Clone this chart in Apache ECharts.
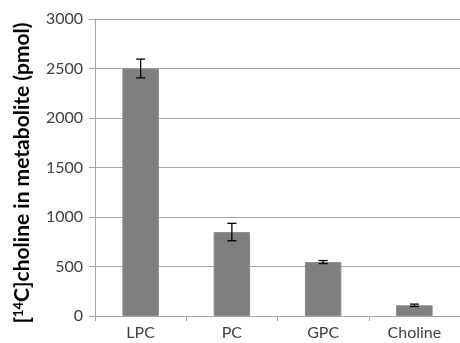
<!DOCTYPE html>
<html><head><meta charset="utf-8">
<script src="https://cdn.jsdelivr.net/npm/echarts@6/dist/echarts.min.js"></script>
<style>html,body{margin:0;padding:0;background:#fff}#c{width:460px;height:343px}</style>
</head><body><div id="c"></div>
<script>
const categories = ['LPC', 'PC', 'GPC', 'Choline'];
const values = [2500, 848, 545, 108];
const errors = [95, 88, 15, 12];
const yTicks = [0, 500, 1000, 1500, 2000, 2500, 3000];

const chart = echarts.init(document.getElementById('c'));
const font = 'Lato';
chart.setOption({
  animation: false,
  grid: { left: 95, right: -2, top: 19, bottom: 27 },
  xAxis: {
    type: 'category', data: categories,
    axisLine: { lineStyle: { color: '#a6a6a6', width: 1 } },
    axisTick: { show: true, length: 5, lineStyle: { color: '#a6a6a6' } },
    axisLabel: { color: '#404040', fontFamily: font, fontSize: 16, margin: 9 }
  },
  yAxis: {
    type: 'value', min: yTicks[0], max: yTicks[yTicks.length - 1], interval: yTicks[1] - yTicks[0],
    name: '{b|[}{s|14}{b|C]choline in metabolite (pmol)}',
    nameLocation: 'middle', nameGap: 62,
    nameTextStyle: {
      padding: [0, 11, 0, 0],
      rich: {
        b: { fontFamily: font, fontWeight: 'bold', fontSize: 21, color: '#000' },
        s: { fontFamily: font, fontWeight: 'bold', fontSize: 13, color: '#000', verticalAlign: 'top', padding: [0,0,8,0] }
      }
    },
    axisLine: { show: true, lineStyle: { color: '#a6a6a6' } },
    axisTick: { show: true, length: 6, lineStyle: { color: '#a6a6a6' } },
    splitLine: { lineStyle: { color: '#a6a6a6', width: 1 } },
    axisLabel: { color: '#404040', fontFamily: font, fontSize: 16, margin: 12, formatter: v => String(v) }
  },
  series: [
    {
      type: 'bar', data: values, barWidth: '40%',
      itemStyle: { color: '#7f7f7f', borderColor: '#8c8c8c', borderWidth: 1 }
    },
    {
      type: 'custom', z: 5,
      data: values.map((v, i) => [i, v - errors[i], v + errors[i]]),
      renderItem: function (params, api) {
        const lo = api.coord([api.value(0), api.value(1)]);
        const hi = api.coord([api.value(0), api.value(2)]);
        const x = lo[0], hw = 4.5;
        const st = { stroke: '#000', lineWidth: 1.3 };
        return { type: 'group', children: [
          { type: 'line', shape: { x1: x, y1: lo[1], x2: x, y2: hi[1] }, style: st },
          { type: 'line', shape: { x1: x - hw, y1: lo[1], x2: x + hw, y2: lo[1] }, style: st },
          { type: 'line', shape: { x1: x - hw, y1: hi[1], x2: x + hw, y2: hi[1] }, style: st }
        ]};
      }
    }
  ]
});
</script></body></html>
